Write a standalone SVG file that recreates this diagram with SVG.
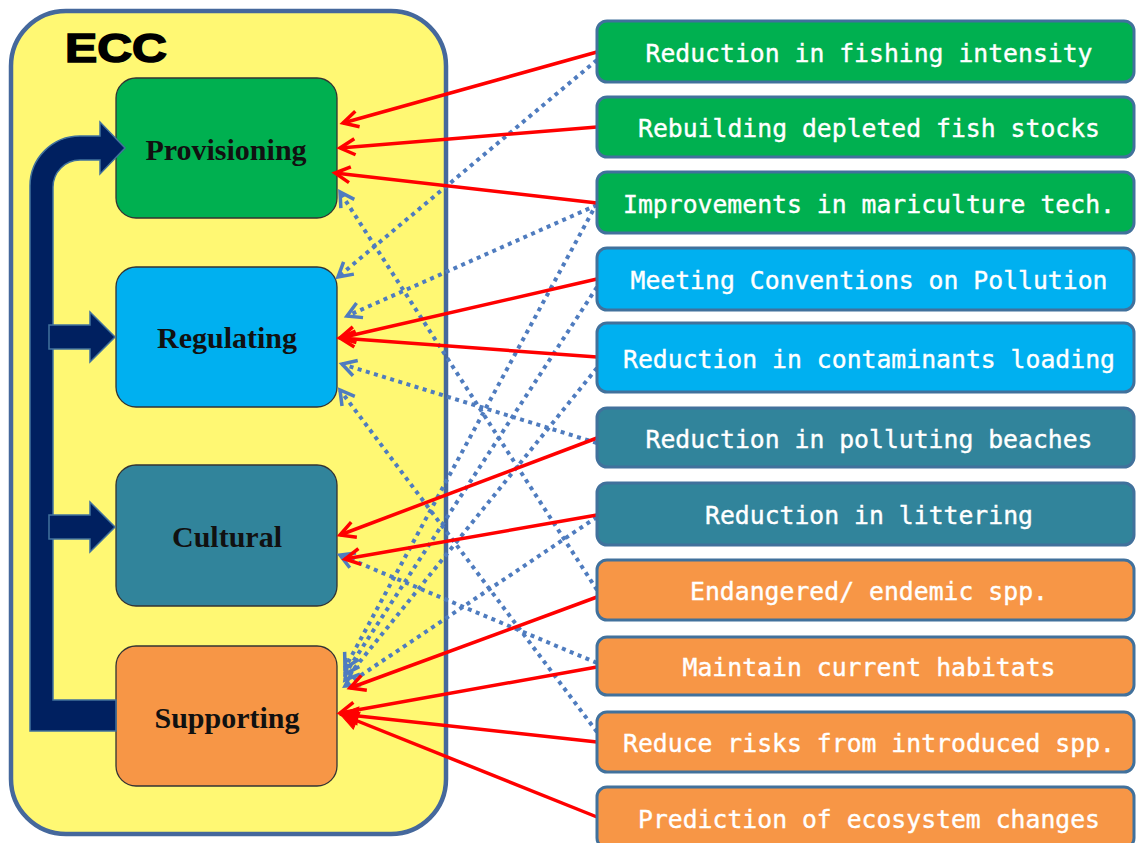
<svg xmlns="http://www.w3.org/2000/svg" width="1136" height="843" viewBox="0 0 1136 843">
<defs>
<style>
.node{stroke:#333;stroke-width:1.3}
.lbl{font-family:"Liberation Serif","Times New Roman",serif;font-weight:bold;font-size:30px;fill:#111;text-anchor:middle}
.rbox{stroke:#41719c;stroke-width:3}
.rtxt{font-family:"DejaVu Sans Mono","Liberation Mono",monospace;font-size:25.5px;fill:#fff;stroke:#fff;stroke-width:0.4;text-anchor:middle}
.red{stroke:#ff0000;stroke-width:3.5;fill:none;marker-end:url(#ra)}
.redf{stroke:#ff0000;stroke-width:3.5;fill:none;marker-end:url(#raf)}
.dot{stroke:#4f7cbf;stroke-width:4;fill:none;stroke-dasharray:4 4.5;marker-end:url(#ba)}
.big{fill:#002060;stroke:#41719c;stroke-width:1.5}
</style>
<marker id="ra" markerUnits="userSpaceOnUse" markerWidth="40" markerHeight="40" viewBox="-20 -20 40 40" refX="0" refY="0" orient="auto" overflow="visible">
<path d="M-15,-8 L0,0 L-15,8" fill="none" stroke="#ff0000" stroke-width="3.5" stroke-linejoin="miter"/>
</marker>
<marker id="raf" markerUnits="userSpaceOnUse" markerWidth="40" markerHeight="40" viewBox="-20 -20 40 40" refX="0" refY="0" orient="auto" overflow="visible">
<path d="M-18,-9 L0,0 L-18,9 Z" fill="#ff0000" stroke="#ff0000" stroke-width="1"/>
</marker>
<marker id="ba" markerUnits="userSpaceOnUse" markerWidth="40" markerHeight="40" viewBox="-20 -20 40 40" refX="0" refY="0" orient="auto" overflow="visible">
<path d="M-14,-8 L0,0 L-14,8" fill="none" stroke="#4f7cbf" stroke-width="3.5"/>
</marker>
</defs>
<rect width="1136" height="843" fill="#ffffff"/>

<g id="ecc">
<rect x="11" y="11" width="435" height="823" rx="55" fill="#fff873" stroke="#45689c" stroke-width="4.5"/>
<text x="65" y="62" font-family="'Arial Black','Liberation Sans',sans-serif" font-weight="900" font-size="40" fill="#000" stroke="#000" stroke-width="1.5" textLength="102" lengthAdjust="spacingAndGlyphs">ECC</text>
</g>

<g id="provisioning">
<rect class="node" x="116" y="78" width="221" height="140" rx="20" fill="#00b050"/>
<text class="lbl" x="226" y="160">Provisioning</text>
</g>
<g id="regulating">
<rect class="node" x="116" y="267" width="221" height="140" rx="20" fill="#00b0f0"/>
<text class="lbl" x="227" y="348">Regulating</text>
</g>
<g id="cultural">
<rect class="node" x="116" y="465" width="221" height="141" rx="20" fill="#31849b"/>
<text class="lbl" x="227" y="547">Cultural</text>
</g>
<g id="supporting">
<rect class="node" x="116" y="646" width="221" height="140" rx="20" fill="#f79646"/>
<text class="lbl" x="227" y="728">Supporting</text>
</g>

<g id="flow-arrows">
<path class="big" d="M116 700 L53 700 L53 187 A27 27 0 0 1 80 160 L100 160 L100 174 L125 148 L100 122 L100 136 L80 136 A50 50 0 0 0 30 186 L30 731 L116 731 Z"/>
<path class="big" d="M49 325 H90 V312 L115 337 L90 362 V349 H49 Z"/>
<path class="big" d="M49 515 H90 V502 L115 527 L90 552 V539 H49 Z"/>
</g>

<g id="connectors">
<line class="dot" x1="597" y1="60" x2="338" y2="277"/>
<line class="dot" x1="597" y1="205" x2="347" y2="316"/>
<line class="dot" x1="597" y1="443" x2="342" y2="364"/>
<line class="dot" x1="597" y1="732" x2="340" y2="390"/>
<line class="dot" x1="597" y1="590" x2="340" y2="192"/>
<line class="dot" x1="597" y1="663" x2="340" y2="555"/>
<line class="dot" x1="597" y1="203" x2="345" y2="668"/>
<line class="dot" x1="597" y1="287" x2="345" y2="674"/>
<line class="dot" x1="597" y1="368" x2="345" y2="680"/>
<line class="dot" x1="597" y1="517" x2="345" y2="686"/>

<line class="red" x1="597" y1="52" x2="343" y2="123"/>
<line class="red" x1="597" y1="127" x2="340" y2="148"/>
<line class="red" x1="597" y1="203" x2="335" y2="173"/>
<line class="red" x1="597" y1="279" x2="340" y2="338"/>
<line class="red" x1="597" y1="357" x2="340" y2="338"/>
<line class="red" x1="597" y1="438" x2="340" y2="535"/>
<line class="red" x1="597" y1="515" x2="345" y2="559"/>
<line class="red" x1="597" y1="597" x2="350" y2="688"/>
<line class="red" x1="597" y1="667" x2="340" y2="713"/>
<line class="redf" x1="597" y1="742" x2="340" y2="714"/>
<line class="redf" x1="597" y1="817" x2="340" y2="714"/>
</g>

<g id="r1"><rect class="rbox" x="597" y="21" width="537" height="61" rx="10" fill="#00b050"/><text class="rtxt" x="869" y="62" textLength="447" lengthAdjust="spacingAndGlyphs">Reduction in fishing intensity</text></g>
<g id="r2"><rect class="rbox" x="597" y="97" width="537" height="60" rx="10" fill="#00b050"/><text class="rtxt" x="869" y="137" textLength="462" lengthAdjust="spacingAndGlyphs">Rebuilding depleted fish stocks</text></g>
<g id="r3"><rect class="rbox" x="597" y="172" width="537" height="61" rx="10" fill="#00b050"/><text class="rtxt" x="869" y="213" textLength="492" lengthAdjust="spacingAndGlyphs">Improvements in mariculture tech.</text></g>
<g id="r4"><rect class="rbox" x="597" y="248" width="537" height="62" rx="10" fill="#00b0f0"/><text class="rtxt" x="869" y="289" textLength="477" lengthAdjust="spacingAndGlyphs">Meeting Conventions on Pollution</text></g>
<g id="r5"><rect class="rbox" x="597" y="323" width="537" height="69" rx="10" fill="#00b0f0"/><text class="rtxt" x="869" y="368" textLength="492" lengthAdjust="spacingAndGlyphs">Reduction in contaminants loading</text></g>
<g id="r6"><rect class="rbox" x="597" y="408" width="537" height="59" rx="10" fill="#31849b"/><text class="rtxt" x="869" y="448" textLength="447" lengthAdjust="spacingAndGlyphs">Reduction in polluting beaches</text></g>
<g id="r7"><rect class="rbox" x="597" y="483" width="537" height="62" rx="10" fill="#31849b"/><text class="rtxt" x="869" y="524" textLength="328" lengthAdjust="spacingAndGlyphs">Reduction in littering</text></g>
<g id="r8"><rect class="rbox" x="597" y="560" width="537" height="60" rx="10" fill="#f79646"/><text class="rtxt" x="869" y="600" textLength="358" lengthAdjust="spacingAndGlyphs">Endangered/ endemic spp.</text></g>
<g id="r9"><rect class="rbox" x="597" y="637" width="537" height="58" rx="10" fill="#f79646"/><text class="rtxt" x="869" y="676" textLength="373" lengthAdjust="spacingAndGlyphs">Maintain current habitats</text></g>
<g id="r10"><rect class="rbox" x="597" y="712" width="537" height="60" rx="10" fill="#f79646"/><text class="rtxt" x="869" y="752" textLength="492" lengthAdjust="spacingAndGlyphs">Reduce risks from introduced spp.</text></g>
<g id="r11"><rect class="rbox" x="597" y="787" width="537" height="61" rx="10" fill="#f79646"/><text class="rtxt" x="869" y="828" textLength="462" lengthAdjust="spacingAndGlyphs">Prediction of ecosystem changes</text></g>
</svg>
